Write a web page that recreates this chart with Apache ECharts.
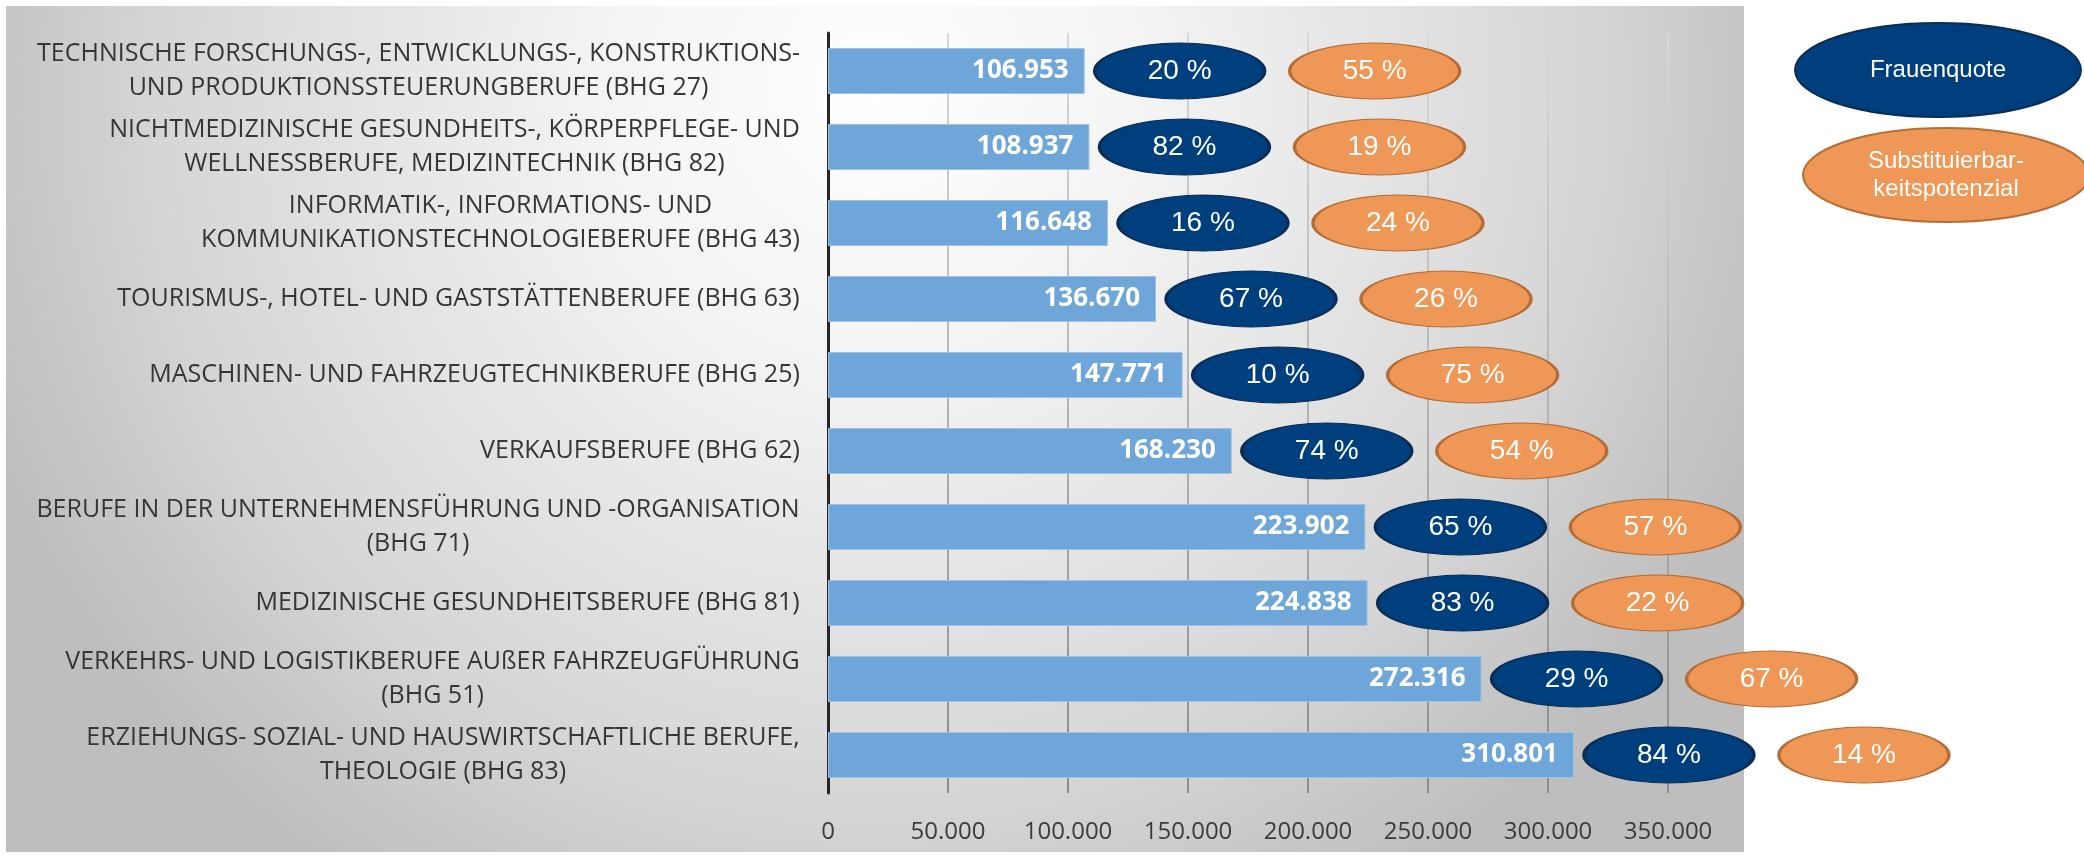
<!DOCTYPE html>
<html>
<head>
<meta charset="utf-8">
<script src="https://cdn.jsdelivr.net/npm/echarts@6/dist/echarts.min.js"></script>
<style>
html,body{margin:0;padding:0;background:#fff;}
#chart{width:2084px;height:859px;}
</style>
</head>
<body>
<div id="chart"></div>
<script>
const categories = [
  "TECHNISCHE FORSCHUNGS-, ENTWICKLUNGS-, KONSTRUKTIONS-\nUND PRODUKTIONSSTEUERUNGBERUFE (BHG 27)",
  "NICHTMEDIZINISCHE GESUNDHEITS-, KÖRPERPFLEGE- UND\nWELLNESSBERUFE, MEDIZINTECHNIK (BHG 82)",
  "INFORMATIK-, INFORMATIONS- UND\nKOMMUNIKATIONSTECHNOLOGIEBERUFE (BHG 43)",
  "TOURISMUS-, HOTEL- UND GASTSTÄTTENBERUFE (BHG 63)",
  "MASCHINEN- UND FAHRZEUGTECHNIKBERUFE (BHG 25)",
  "VERKAUFSBERUFE (BHG 62)",
  "BERUFE IN DER UNTERNEHMENSFÜHRUNG UND -ORGANISATION\n(BHG 71)",
  "MEDIZINISCHE GESUNDHEITSBERUFE (BHG 81)",
  "VERKEHRS- UND LOGISTIKBERUFE AUßER FAHRZEUGFÜHRUNG\n(BHG 51)",
  "ERZIEHUNGS- SOZIAL- UND HAUSWIRTSCHAFTLICHE BERUFE,\nTHEOLOGIE (BHG 83)"
];
const beschaeftigte = [106953, 108937, 116648, 136670, 147771, 168230, 223902, 224838, 272316, 310801];
const frauenquote = [20, 82, 16, 67, 10, 74, 65, 83, 29, 84];
const substituierbarkeit = [55, 19, 24, 26, 75, 54, 57, 22, 67, 14];
const xTicks = [0, 50000, 100000, 150000, 200000, 250000, 300000, 350000];
const legendNames = ["Frauenquote", "Substituierbar-\nkeitspotenzial"];

function fmtDE(v){ return String(v).replace(/\B(?=(\d{3})+(?!\d))/g, '.'); }

const catFont = '"Open Sans", "DejaVu Sans", sans-serif';
const catSize = 25;
const mctx = document.createElement('canvas').getContext('2d');
mctx.font = catSize + 'px "Open Sans"';
const rich = {};
categories.forEach((c, i) => {
  const w = Math.max(...c.split('\n').map(l => mctx.measureText(l).width));
  rich['c' + i] = {width: Math.ceil(w) + 2, align: 'center', fontSize: catSize, fontFamily: catFont, color: '#363636', lineHeight: 34};
});

const chart = echarts.init(document.getElementById('chart'), null, {renderer: 'canvas'});
const ellipseLabelFont = '"Liberation Sans", Arial, sans-serif';

chart.setOption({
  backgroundColor: '#ffffff',
  animation: false,
  grid: {left: 828, top: 33, width: 840, height: 760, containLabel: false},
  xAxis: {
    type: 'value', min: xTicks[0], max: xTicks[xTicks.length - 1], interval: xTicks[1] - xTicks[0],
    axisLine: {show: false}, axisTick: {show: false},
    axisLabel: {formatter: v => fmtDE(v), fontFamily: catFont, fontSize: 24, color: '#3c3c3c', margin: 27},
    splitLine: {show: true, lineStyle: {width: 2, color: {type: 'linear', x: 0, y: 33, x2: 0, y2: 793, global: true,
      colorStops: [{offset: 0, color: '#d8d8d8'}, {offset: 1, color: '#8c8c8c'}]}}}
  },
  yAxis: {
    type: 'category', data: categories, inverse: true,
    axisLine: {show: true, lineStyle: {color: '#262626', width: 3}},
    axisTick: {show: false},
    axisLabel: {
      interval: 0, margin: 27, align: 'right',
      formatter: (v, i) => v.split('\n').map(l => '{c' + i + '|' + l + '}').join('\n'),
      rich: rich
    }
  },
  graphic: [
    {type: 'rect', z: -100, silent: true, shape: {x: 6, y: 6, width: 1738, height: 846},
      style: {fill: new echarts.graphic.RadialGradient(0.5, 0.1, 1.12, [
        {offset: 0, color: '#ffffff'}, {offset: 0.3, color: '#f3f3f3'}, {offset: 0.75, color: '#d6d6d6'}, {offset: 1, color: '#bebebe'}])}},
    {type: 'ellipse', z: 100, shape: {cx: 1938, cy: 70, rx: 143, ry: 47},
      style: {fill: '#003f7d', stroke: '#0a2c55', lineWidth: 2}},
    {type: 'text', z: 101, x: 1938, y: 70, style: {text: legendNames[0], fill: '#ffffff', font: '24px "Liberation Sans", Arial, sans-serif', align: 'center', verticalAlign: 'middle'}},
    {type: 'ellipse', z: 100, shape: {cx: 1946, cy: 175, rx: 143, ry: 47},
      style: {fill: '#ee9756', stroke: '#b46d35', lineWidth: 2}},
    {type: 'text', z: 101, x: 1946, y: 175, style: {text: legendNames[1], fill: '#ffffff', font: '24px "Liberation Sans", Arial, sans-serif', lineHeight: 28, align: 'center', verticalAlign: 'middle'}}
  ],
  series: [
    {
      type: 'bar', data: beschaeftigte, barWidth: 46,
      itemStyle: {color: '#6fa6da', borderColor: '#9cc3e6', borderWidth: 1},
      label: {show: true, position: 'insideRight', distance: 16, formatter: p => fmtDE(p.value),
        color: '#ffffff', fontWeight: 'bold', fontSize: 26, fontFamily: catFont}
    },
    {
      type: 'scatter', name: 'Frauenquote', clip: false,
      data: beschaeftigte.map((v, i) => [v, i]),
      symbol: 'circle', symbolSize: [170, 56], symbolOffset: [95, 0],
      itemStyle: {color: '#003f7d', borderColor: '#0a2c55', borderWidth: 2, opacity: 1},
      label: {show: true, position: 'inside', formatter: p => frauenquote[p.dataIndex] + ' %',
        color: '#ffffff', fontSize: 28, fontFamily: ellipseLabelFont},
      z: 5
    },
    {
      type: 'scatter', name: 'Substituierbarkeitspotenzial', clip: false,
      data: beschaeftigte.map((v, i) => [v, i]),
      symbol: 'circle', symbolSize: [170, 56], symbolOffset: [290, 0],
      itemStyle: {color: '#ee9756', borderColor: '#b46d35', borderWidth: 2, opacity: 1},
      label: {show: true, position: 'inside', formatter: p => substituierbarkeit[p.dataIndex] + ' %',
        color: '#ffffff', fontSize: 28, fontFamily: ellipseLabelFont},
      z: 5
    }
  ]
});
</script>
</body>
</html>
